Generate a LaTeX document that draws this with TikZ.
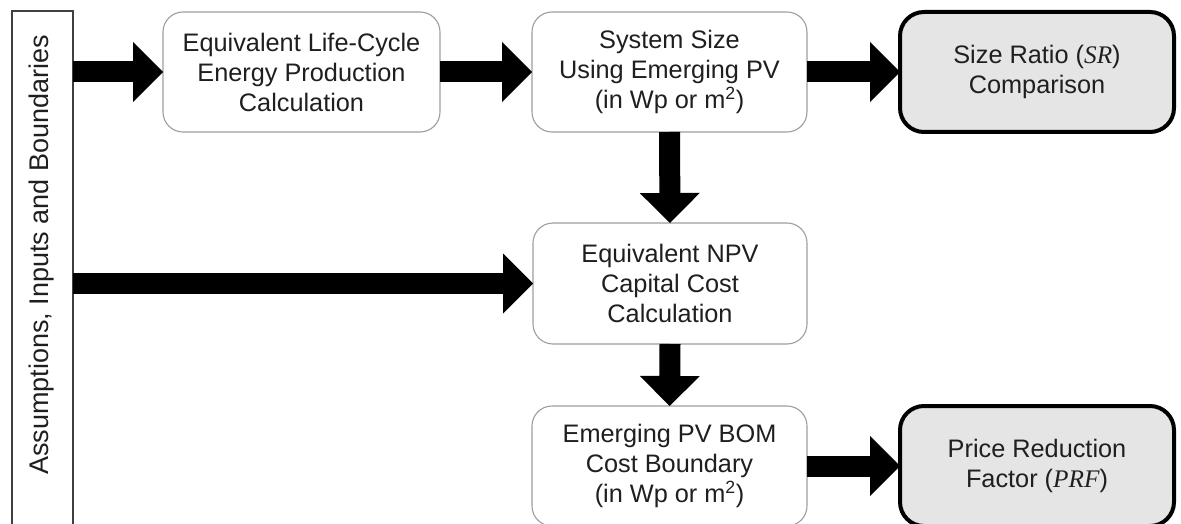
\documentclass[tikz,border=0pt]{standalone}
\usepackage{fontspec}
\setmainfont{Liberation Sans}
\newfontfamily\serifit{Liberation Serif}[ItalicFont=* Italic]
\usetikzlibrary{arrows.meta}
\newcommand{\varit}[1]{{\serifit\itshape #1}}
\begin{document}
\begin{tikzpicture}[x=1pt, y=-1pt,
  every node/.style={inner sep=0pt, outer sep=0pt, text=black!88,
    font=\fontsize{25.3}{30}\selectfont, align=center},
  stepbox/.style={draw=black!38, line width=1.1pt, fill=white,
    rounded corners=20pt, minimum width=#1, minimum height=120pt},
  resultbox/.style={draw=black, line width=4pt, fill=black!10,
    rounded corners=24pt, minimum width=274pt, minimum height=120pt},
  fat/.style={line width=21pt, draw=black,
    -{Triangle[width=60pt, length=30pt, line width=0pt]}}
]
\useasboundingbox (0,0) rectangle (1181,524);

% input column on the left
\node[draw=black!75, line width=1.2pt, minimum width=61pt, minimum height=530pt]
  (inputs) at (42.5,276) {};
\node[rotate=90, font=\fontsize{27}{30}\selectfont] (inputstext) at (42,255)
  {Assumptions, Inputs and Boundaries};

% process steps
\node[stepbox=277pt] (elc) at (301.5,72)
  {Equivalent Life-Cycle\\Energy Production\\Calculation};
\node[stepbox=275pt] (size) at (669.5,72)
  {System Size\\Using Emerging PV\\(in Wp or m\textsuperscript{2})};
\node[stepbox=274pt, minimum height=121pt] (npv) at (670,283.5)
  {Equivalent NPV\\Capital Cost\\Calculation};
\node[stepbox=275pt] (bom) at (669.5,466)
  {Emerging PV BOM\\Cost Boundary\\(in Wp or m\textsuperscript{2})};

% results
\node[resultbox] (sr) at (1037,72)
  {Size Ratio (\varit{SR})\\Comparison};
\node[resultbox] (prf) at (1037,466)
  {Price Reduction\\Factor (\varit{PRF})};

% block arrows
\draw[fat] (inputs.east |- elc.west) -- (elc.west);
\draw[fat] (elc.east) -- (size.west);
\draw[fat] (size.east) -- (sr.west);
\draw[fat] (size.south) -- (npv.north);
\draw[fat] (inputs.east |- npv.west) -- (npv.west);
\draw[fat] (npv.south) -- (bom.north);
\draw[fat] (bom.east) -- (prf.west);
\end{tikzpicture}
\end{document}
